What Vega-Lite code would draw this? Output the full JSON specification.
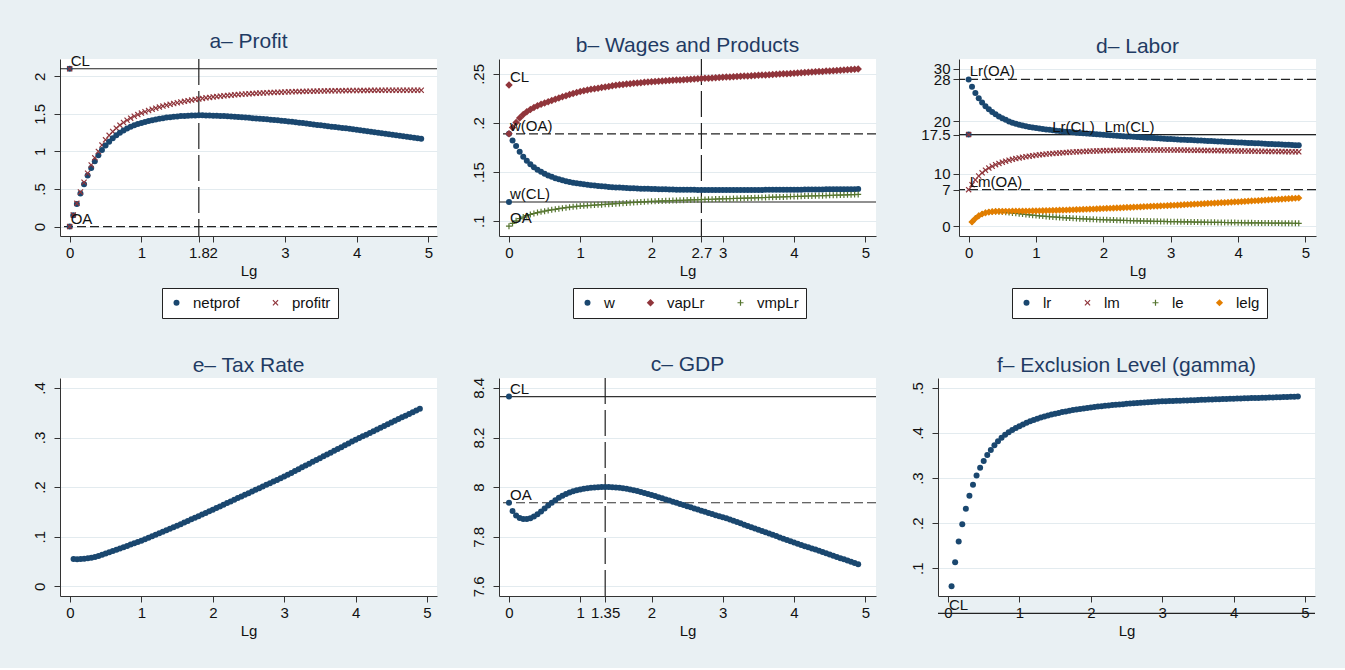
{
"$schema":"https://vega.github.io/schema/vega-lite/v6.json",
"background":"#e9f0f3",
"padding":{"left":31,"top":30,"right":31,"bottom":30},
"config":{
 "view":{"stroke":null,"fill":"#ffffff"},
 "title":{"font":"Liberation Sans","fontSize":21,"fontWeight":"normal","color":"#1f3b63","offset":2,"frame":"group","anchor":"middle"},
 "axis":{"labelFont":"Liberation Sans","labelFontSize":15,"labelColor":"#111","titleFont":"Liberation Sans","titleFontSize":15,"titleFontWeight":"normal","titleColor":"#111","domainColor":"#333","tickColor":"#333","tickSize":6,"labelOverlap":false,"labelFlush":false,"labelBound":false},
 "axisX":{"grid":false,"labelPadding":3,"titlePadding":3},
 "axisY":{"grid":true,"gridColor":"#e3ebef","labelAngle":-90,"labelPadding":7},
 "legend":{"orient":"none","direction":"horizontal","labelFont":"Liberation Sans","labelFontSize":15,"labelColor":"#111","fillColor":"#ffffff","strokeColor":"#222","padding":7,"labelOffset":9,"columnPadding":28,"symbolStrokeWidth":0,"symbolSize":36}
},
"datasets":{
"ref":[
{"panel":"a","dir":"h","v":2.1,"style":"solid"},{"panel":"a","dir":"h","v":0,"style":"dash"},{"panel":"a","dir":"v","Lg":1.8,"style":"longdash"},
{"panel":"b","dir":"h","v":0.189,"style":"dash"},{"panel":"b","dir":"h","v":0.1196,"style":"solid"},{"panel":"b","dir":"v","Lg":2.7,"style":"longdash"},
{"panel":"d","dir":"h","v":28,"style":"dash"},{"panel":"d","dir":"h","v":17.5,"style":"solid"},{"panel":"d","dir":"h","v":7,"style":"dash"},
{"panel":"c","dir":"h","v":8.365,"style":"solid"},{"panel":"c","dir":"h","v":7.937,"style":"dash"},{"panel":"c","dir":"v","Lg":1.35,"style":"longdash"},
{"panel":"f","dir":"h","v":0,"style":"solid"}
],
"lab":[
{"panel":"a","Lg":0,"v":2.1,"label":"CL"},{"panel":"a","Lg":0,"v":0,"label":"OA"},
{"panel":"b","Lg":0,"v":0.2388,"label":"CL"},{"panel":"b","Lg":0,"v":0.189,"label":"w(OA)"},{"panel":"b","Lg":0,"v":0.1196,"label":"w(CL)"},{"panel":"b","Lg":0,"v":0.095,"label":"OA"},
{"panel":"d","Lg":0,"v":28,"label":"Lr(OA)"},{"panel":"d","Lg":1.225,"v":17.5,"label":"Lr(CL)"},{"panel":"d","Lg":2.0,"v":17.5,"label":"Lm(CL)"},{"panel":"d","Lg":0,"v":7,"label":"Lm(OA)"},
{"panel":"c","Lg":0,"v":8.365,"label":"CL"},{"panel":"c","Lg":0,"v":7.937,"label":"OA"},
{"panel":"f","Lg":0,"v":0,"label":"CL"}
],
"main":[
{"Lg":0,"netprof":0,"profitr":0,"w":0.189,"vapLr":0.189,"vmpLr":0.095,"lr":28,"lm":7,"gdp":7.937},
{"Lg":0,"netprof":2.1,"profitr":2.1,"w":0.1196,"vapLr":0.2388,"lr":17.5,"lm":17.5,"gdp":8.365},
{"Lg":0.05,"netprof":0.15,"profitr":0.155,"w":0.1823,"vapLr":0.1955,"vmpLr":0.0978,"lr":26.6,"lm":7.95,"le":0.85,"lelg":0.85,"tax":0.0548,"gdp":7.904,"gamma":0.06},
{"Lg":0.1,"netprof":0.3,"profitr":0.31,"w":0.1765,"vapLr":0.2005,"vmpLr":0.1005,"lr":25.4,"lm":8.85,"le":1.5,"lelg":1.5,"tax":0.0546,"gdp":7.886,"gamma":0.1133},
{"Lg":0.15,"netprof":0.44,"profitr":0.46,"w":0.1707,"vapLr":0.2051,"vmpLr":0.1026,"lr":24.4,"lm":9.6,"le":2.0,"lelg":2.0,"tax":0.0548,"gdp":7.876,"gamma":0.1593},
{"Lg":0.2,"netprof":0.565,"profitr":0.59,"w":0.1657,"vapLr":0.2086,"vmpLr":0.1043,"lr":23.6,"lm":10.2,"le":2.35,"lelg":2.35,"tax":0.0553,"gdp":7.871,"gamma":0.1978},
{"Lg":0.25,"netprof":0.68,"profitr":0.71,"w":0.1615,"vapLr":0.2115,"vmpLr":0.1057,"lr":22.9,"lm":10.7,"le":2.58,"lelg":2.58,"tax":0.0563,"gdp":7.871,"gamma":0.2319},
{"Lg":0.3,"netprof":0.78,"profitr":0.82,"w":0.158,"vapLr":0.2139,"vmpLr":0.1069,"lr":22.3,"lm":11.1,"le":2.72,"lelg":2.72,"tax":0.0576,"gdp":7.875,"gamma":0.2607},
{"Lg":0.35,"netprof":0.87,"profitr":0.915,"w":0.155,"vapLr":0.2159,"vmpLr":0.1079,"lr":21.8,"lm":11.45,"le":2.8,"lelg":2.8,"tax":0.0592,"gdp":7.882,"gamma":0.2852},
{"Lg":0.4,"netprof":0.95,"profitr":1.0,"w":0.1525,"vapLr":0.2176,"vmpLr":0.1088,"lr":21.35,"lm":11.75,"le":2.83,"lelg":2.84,"tax":0.0611,"gdp":7.891,"gamma":0.3059},
{"Lg":0.45,"netprof":1.02,"profitr":1.085,"w":0.1503,"vapLr":0.2191,"vmpLr":0.1096,"lr":20.95,"lm":12.0,"le":2.82,"lelg":2.86,"tax":0.0634,"gdp":7.902,"gamma":0.323},
{"Lg":0.5,"netprof":1.08,"profitr":1.155,"w":0.1484,"vapLr":0.2204,"vmpLr":0.1103,"lr":20.6,"lm":12.23,"le":2.75,"lelg":2.87,"tax":0.066,"gdp":7.914,"gamma":0.3378},
{"Lg":0.55,"netprof":1.13,"profitr":1.215,"w":0.1467,"vapLr":0.2217,"vmpLr":0.111,"lr":20.3,"lm":12.43,"le":2.69,"lelg":2.88,"tax":0.0685,"gdp":7.926,"gamma":0.3511},
{"Lg":0.6,"netprof":1.175,"profitr":1.265,"w":0.1452,"vapLr":0.223,"vmpLr":0.1116,"lr":20.0,"lm":12.61,"le":2.62,"lelg":2.88,"tax":0.071,"gdp":7.937,"gamma":0.3622},
{"Lg":0.65,"netprof":1.215,"profitr":1.31,"w":0.1439,"vapLr":0.2243,"vmpLr":0.1122,"lr":19.77,"lm":12.77,"le":2.55,"lelg":2.89,"tax":0.0736,"gdp":7.947,"gamma":0.3726},
{"Lg":0.7,"netprof":1.25,"profitr":1.35,"w":0.1427,"vapLr":0.2255,"vmpLr":0.1128,"lr":19.56,"lm":12.92,"le":2.48,"lelg":2.9,"tax":0.0762,"gdp":7.957,"gamma":0.3815},
{"Lg":0.75,"netprof":1.28,"profitr":1.385,"w":0.1417,"vapLr":0.2267,"vmpLr":0.1133,"lr":19.38,"lm":13.05,"le":2.41,"lelg":2.9,"tax":0.0788,"gdp":7.965,"gamma":0.3893},
{"Lg":0.8,"netprof":1.305,"profitr":1.415,"w":0.1408,"vapLr":0.2279,"vmpLr":0.1138,"lr":19.22,"lm":13.17,"le":2.34,"lelg":2.91,"tax":0.0814,"gdp":7.972,"gamma":0.396},
{"Lg":0.85,"netprof":1.328,"profitr":1.443,"w":0.14,"vapLr":0.229,"vmpLr":0.1143,"lr":19.08,"lm":13.28,"le":2.27,"lelg":2.92,"tax":0.084,"gdp":7.978,"gamma":0.4018},
{"Lg":0.9,"netprof":1.348,"profitr":1.468,"w":0.1393,"vapLr":0.2301,"vmpLr":0.1147,"lr":18.96,"lm":13.38,"le":2.2,"lelg":2.93,"tax":0.0866,"gdp":7.983,"gamma":0.4069},
{"Lg":0.95,"netprof":1.365,"profitr":1.49,"w":0.1387,"vapLr":0.2312,"vmpLr":0.1151,"lr":18.85,"lm":13.47,"le":2.13,"lelg":2.94,"tax":0.0891,"gdp":7.987,"gamma":0.4113},
{"Lg":1.0,"netprof":1.38,"profitr":1.51,"w":0.1381,"vapLr":0.2322,"vmpLr":0.1155,"lr":18.75,"lm":13.56,"le":2.07,"lelg":2.95,"tax":0.0917,"gdp":7.99,"gamma":0.4152},
{"Lg":1.05,"netprof":1.393,"profitr":1.528,"w":0.1376,"vapLr":0.2329,"vmpLr":0.1157,"lr":18.65,"lm":13.64,"le":2.01,"lelg":2.97,"tax":0.0947,"gdp":7.993,"gamma":0.419},
{"Lg":1.1,"netprof":1.405,"profitr":1.545,"w":0.1371,"vapLr":0.2336,"vmpLr":0.116,"lr":18.56,"lm":13.71,"le":1.95,"lelg":2.98,"tax":0.0977,"gdp":7.995,"gamma":0.4225},
{"Lg":1.15,"netprof":1.416,"profitr":1.561,"w":0.1367,"vapLr":0.2343,"vmpLr":0.1162,"lr":18.47,"lm":13.78,"le":1.9,"lelg":3.0,"tax":0.1008,"gdp":7.997,"gamma":0.4258},
{"Lg":1.2,"netprof":1.426,"profitr":1.576,"w":0.1363,"vapLr":0.2349,"vmpLr":0.1165,"lr":18.39,"lm":13.84,"le":1.84,"lelg":3.02,"tax":0.1038,"gdp":7.998,"gamma":0.4288},
{"Lg":1.25,"netprof":1.435,"profitr":1.59,"w":0.1359,"vapLr":0.2355,"vmpLr":0.1167,"lr":18.31,"lm":13.9,"le":1.79,"lelg":3.04,"tax":0.1068,"gdp":7.999,"gamma":0.4316},
{"Lg":1.3,"netprof":1.443,"profitr":1.603,"w":0.1356,"vapLr":0.2361,"vmpLr":0.1169,"lr":18.24,"lm":13.95,"le":1.74,"lelg":3.06,"tax":0.1099,"gdp":8.0,"gamma":0.4342},
{"Lg":1.35,"netprof":1.45,"profitr":1.615,"w":0.1353,"vapLr":0.2367,"vmpLr":0.1172,"lr":18.17,"lm":14.0,"le":1.7,"lelg":3.08,"tax":0.1129,"gdp":8.0,"gamma":0.4366},
{"Lg":1.4,"netprof":1.456,"profitr":1.627,"w":0.135,"vapLr":0.2373,"vmpLr":0.1174,"lr":18.1,"lm":14.05,"le":1.65,"lelg":3.1,"tax":0.1159,"gdp":8.0,"gamma":0.4388},
{"Lg":1.45,"netprof":1.461,"profitr":1.638,"w":0.1347,"vapLr":0.2379,"vmpLr":0.1177,"lr":18.04,"lm":14.09,"le":1.61,"lelg":3.12,"tax":0.119,"gdp":7.999,"gamma":0.4409},
{"Lg":1.5,"netprof":1.466,"profitr":1.648,"w":0.1345,"vapLr":0.2385,"vmpLr":0.1179,"lr":17.98,"lm":14.13,"le":1.57,"lelg":3.14,"tax":0.122,"gdp":7.998,"gamma":0.4428},
{"Lg":1.55,"netprof":1.47,"profitr":1.658,"w":0.1343,"vapLr":0.2389,"vmpLr":0.1181,"lr":17.92,"lm":14.17,"le":1.53,"lelg":3.16,"tax":0.1252,"gdp":7.997,"gamma":0.4446},
{"Lg":1.6,"netprof":1.473,"profitr":1.667,"w":0.1341,"vapLr":0.2393,"vmpLr":0.1184,"lr":17.86,"lm":14.21,"le":1.5,"lelg":3.19,"tax":0.1285,"gdp":7.995,"gamma":0.4463},
{"Lg":1.65,"netprof":1.476,"profitr":1.676,"w":0.1339,"vapLr":0.2397,"vmpLr":0.1186,"lr":17.81,"lm":14.24,"le":1.46,"lelg":3.21,"tax":0.1317,"gdp":7.993,"gamma":0.4479},
{"Lg":1.7,"netprof":1.478,"profitr":1.684,"w":0.1337,"vapLr":0.2401,"vmpLr":0.1189,"lr":17.76,"lm":14.27,"le":1.43,"lelg":3.24,"tax":0.135,"gdp":7.99,"gamma":0.4494},
{"Lg":1.75,"netprof":1.479,"profitr":1.692,"w":0.1335,"vapLr":0.2405,"vmpLr":0.1191,"lr":17.7,"lm":14.3,"le":1.4,"lelg":3.26,"tax":0.1382,"gdp":7.987,"gamma":0.4508},
{"Lg":1.8,"netprof":1.48,"profitr":1.699,"w":0.1334,"vapLr":0.2408,"vmpLr":0.1193,"lr":17.65,"lm":14.33,"le":1.37,"lelg":3.29,"tax":0.1414,"gdp":7.984,"gamma":0.4521},
{"Lg":1.85,"netprof":1.48,"profitr":1.706,"w":0.1332,"vapLr":0.2411,"vmpLr":0.1196,"lr":17.6,"lm":14.36,"le":1.34,"lelg":3.31,"tax":0.1447,"gdp":7.98,"gamma":0.4533},
{"Lg":1.9,"netprof":1.479,"profitr":1.713,"w":0.1331,"vapLr":0.2415,"vmpLr":0.1198,"lr":17.55,"lm":14.38,"le":1.31,"lelg":3.34,"tax":0.1479,"gdp":7.976,"gamma":0.4545},
{"Lg":1.95,"netprof":1.478,"profitr":1.719,"w":0.133,"vapLr":0.2418,"vmpLr":0.1201,"lr":17.5,"lm":14.4,"le":1.28,"lelg":3.37,"tax":0.1512,"gdp":7.972,"gamma":0.4556},
{"Lg":2.0,"netprof":1.476,"profitr":1.725,"w":0.1329,"vapLr":0.2421,"vmpLr":0.1203,"lr":17.45,"lm":14.42,"le":1.26,"lelg":3.4,"tax":0.1544,"gdp":7.968,"gamma":0.4566},
{"Lg":2.05,"netprof":1.474,"profitr":1.73,"w":0.1328,"vapLr":0.2423,"vmpLr":0.1204,"lr":17.41,"lm":14.44,"le":1.24,"lelg":3.43,"tax":0.1577,"gdp":7.964,"gamma":0.4576},
{"Lg":2.1,"netprof":1.472,"profitr":1.735,"w":0.1327,"vapLr":0.2426,"vmpLr":0.1206,"lr":17.36,"lm":14.46,"le":1.21,"lelg":3.45,"tax":0.1611,"gdp":7.959,"gamma":0.4585},
{"Lg":2.15,"netprof":1.47,"profitr":1.74,"w":0.1326,"vapLr":0.2428,"vmpLr":0.1207,"lr":17.32,"lm":14.47,"le":1.19,"lelg":3.48,"tax":0.1644,"gdp":7.955,"gamma":0.4594},
{"Lg":2.2,"netprof":1.467,"profitr":1.745,"w":0.1325,"vapLr":0.243,"vmpLr":0.1208,"lr":17.27,"lm":14.49,"le":1.17,"lelg":3.51,"tax":0.1678,"gdp":7.95,"gamma":0.4603},
{"Lg":2.25,"netprof":1.464,"profitr":1.749,"w":0.1324,"vapLr":0.2432,"vmpLr":0.1209,"lr":17.23,"lm":14.5,"le":1.15,"lelg":3.54,"tax":0.1711,"gdp":7.946,"gamma":0.4611},
{"Lg":2.3,"netprof":1.461,"profitr":1.753,"w":0.1323,"vapLr":0.2435,"vmpLr":0.1211,"lr":17.19,"lm":14.51,"le":1.13,"lelg":3.57,"tax":0.1745,"gdp":7.941,"gamma":0.4619},
{"Lg":2.35,"netprof":1.458,"profitr":1.757,"w":0.1322,"vapLr":0.2437,"vmpLr":0.1212,"lr":17.15,"lm":14.52,"le":1.11,"lelg":3.6,"tax":0.1778,"gdp":7.937,"gamma":0.4626},
{"Lg":2.4,"netprof":1.455,"profitr":1.761,"w":0.1322,"vapLr":0.2439,"vmpLr":0.1213,"lr":17.11,"lm":14.53,"le":1.09,"lelg":3.63,"tax":0.1811,"gdp":7.932,"gamma":0.4633},
{"Lg":2.45,"netprof":1.451,"profitr":1.764,"w":0.1321,"vapLr":0.2441,"vmpLr":0.1214,"lr":17.07,"lm":14.54,"le":1.07,"lelg":3.66,"tax":0.1845,"gdp":7.928,"gamma":0.464},
{"Lg":2.5,"netprof":1.447,"profitr":1.767,"w":0.1321,"vapLr":0.2444,"vmpLr":0.1216,"lr":17.03,"lm":14.54,"le":1.05,"lelg":3.69,"tax":0.1878,"gdp":7.923,"gamma":0.4647},
{"Lg":2.55,"netprof":1.443,"profitr":1.77,"w":0.132,"vapLr":0.2446,"vmpLr":0.1217,"lr":16.99,"lm":14.55,"le":1.03,"lelg":3.72,"tax":0.1911,"gdp":7.919,"gamma":0.4653},
{"Lg":2.6,"netprof":1.439,"profitr":1.773,"w":0.132,"vapLr":0.2448,"vmpLr":0.1218,"lr":16.95,"lm":14.55,"le":1.02,"lelg":3.75,"tax":0.1945,"gdp":7.914,"gamma":0.4659},
{"Lg":2.65,"netprof":1.435,"profitr":1.776,"w":0.1319,"vapLr":0.245,"vmpLr":0.1219,"lr":16.91,"lm":14.55,"le":1.0,"lelg":3.78,"tax":0.1978,"gdp":7.91,"gamma":0.4665},
{"Lg":2.7,"netprof":1.431,"profitr":1.778,"w":0.1319,"vapLr":0.2453,"vmpLr":0.1221,"lr":16.87,"lm":14.56,"le":0.99,"lelg":3.81,"tax":0.2012,"gdp":7.905,"gamma":0.4671},
{"Lg":2.75,"netprof":1.427,"profitr":1.781,"w":0.1319,"vapLr":0.2455,"vmpLr":0.1222,"lr":16.83,"lm":14.56,"le":0.97,"lelg":3.84,"tax":0.2045,"gdp":7.901,"gamma":0.4677},
{"Lg":2.8,"netprof":1.422,"profitr":1.783,"w":0.1318,"vapLr":0.2457,"vmpLr":0.1223,"lr":16.79,"lm":14.56,"le":0.96,"lelg":3.87,"tax":0.2078,"gdp":7.896,"gamma":0.4682},
{"Lg":2.85,"netprof":1.418,"profitr":1.785,"w":0.1318,"vapLr":0.2459,"vmpLr":0.1224,"lr":16.75,"lm":14.56,"le":0.94,"lelg":3.9,"tax":0.2112,"gdp":7.892,"gamma":0.4687},
{"Lg":2.9,"netprof":1.414,"profitr":1.787,"w":0.1318,"vapLr":0.2462,"vmpLr":0.1226,"lr":16.71,"lm":14.55,"le":0.93,"lelg":3.93,"tax":0.2145,"gdp":7.887,"gamma":0.4692},
{"Lg":2.95,"netprof":1.41,"profitr":1.789,"w":0.1318,"vapLr":0.2464,"vmpLr":0.1227,"lr":16.67,"lm":14.55,"le":0.91,"lelg":3.96,"tax":0.2179,"gdp":7.883,"gamma":0.4697},
{"Lg":3.0,"netprof":1.405,"profitr":1.791,"w":0.1318,"vapLr":0.2466,"vmpLr":0.1228,"lr":16.63,"lm":14.55,"le":0.9,"lelg":3.99,"tax":0.2212,"gdp":7.879,"gamma":0.4702},
{"Lg":3.05,"netprof":1.4,"profitr":1.793,"w":0.1318,"vapLr":0.2468,"vmpLr":0.1229,"lr":16.6,"lm":14.54,"le":0.89,"lelg":4.02,"tax":0.2249,"gdp":7.874,"gamma":0.4705},
{"Lg":3.1,"netprof":1.394,"profitr":1.794,"w":0.1318,"vapLr":0.247,"vmpLr":0.123,"lr":16.57,"lm":14.54,"le":0.88,"lelg":4.06,"tax":0.2286,"gdp":7.869,"gamma":0.4708},
{"Lg":3.15,"netprof":1.388,"profitr":1.796,"w":0.1318,"vapLr":0.2472,"vmpLr":0.1232,"lr":16.53,"lm":14.53,"le":0.87,"lelg":4.09,"tax":0.2323,"gdp":7.864,"gamma":0.4711},
{"Lg":3.2,"netprof":1.382,"profitr":1.797,"w":0.1318,"vapLr":0.2474,"vmpLr":0.1233,"lr":16.5,"lm":14.53,"le":0.86,"lelg":4.13,"tax":0.236,"gdp":7.859,"gamma":0.4714},
{"Lg":3.25,"netprof":1.377,"profitr":1.799,"w":0.1318,"vapLr":0.2476,"vmpLr":0.1234,"lr":16.47,"lm":14.52,"le":0.85,"lelg":4.16,"tax":0.2398,"gdp":7.854,"gamma":0.4717},
{"Lg":3.3,"netprof":1.371,"profitr":1.8,"w":0.1318,"vapLr":0.2478,"vmpLr":0.1235,"lr":16.44,"lm":14.51,"le":0.84,"lelg":4.19,"tax":0.2435,"gdp":7.848,"gamma":0.472},
{"Lg":3.35,"netprof":1.365,"profitr":1.801,"w":0.1319,"vapLr":0.248,"vmpLr":0.1236,"lr":16.41,"lm":14.5,"le":0.82,"lelg":4.23,"tax":0.2472,"gdp":7.843,"gamma":0.4723},
{"Lg":3.4,"netprof":1.359,"profitr":1.802,"w":0.1319,"vapLr":0.2482,"vmpLr":0.1238,"lr":16.38,"lm":14.5,"le":0.81,"lelg":4.26,"tax":0.2509,"gdp":7.838,"gamma":0.4726},
{"Lg":3.45,"netprof":1.353,"profitr":1.803,"w":0.1319,"vapLr":0.2484,"vmpLr":0.1239,"lr":16.35,"lm":14.49,"le":0.8,"lelg":4.3,"tax":0.2546,"gdp":7.833,"gamma":0.4729},
{"Lg":3.5,"netprof":1.348,"profitr":1.804,"w":0.1319,"vapLr":0.2486,"vmpLr":0.124,"lr":16.32,"lm":14.48,"le":0.79,"lelg":4.33,"tax":0.2583,"gdp":7.828,"gamma":0.4732},
{"Lg":3.55,"netprof":1.342,"profitr":1.805,"w":0.1319,"vapLr":0.2488,"vmpLr":0.1241,"lr":16.28,"lm":14.47,"le":0.78,"lelg":4.37,"tax":0.262,"gdp":7.823,"gamma":0.4735},
{"Lg":3.6,"netprof":1.336,"profitr":1.806,"w":0.132,"vapLr":0.249,"vmpLr":0.1242,"lr":16.25,"lm":14.46,"le":0.77,"lelg":4.4,"tax":0.2657,"gdp":7.818,"gamma":0.4738},
{"Lg":3.65,"netprof":1.33,"profitr":1.807,"w":0.132,"vapLr":0.2492,"vmpLr":0.1244,"lr":16.22,"lm":14.45,"le":0.76,"lelg":4.44,"tax":0.2694,"gdp":7.813,"gamma":0.4741},
{"Lg":3.7,"netprof":1.325,"profitr":1.808,"w":0.132,"vapLr":0.2494,"vmpLr":0.1245,"lr":16.19,"lm":14.44,"le":0.75,"lelg":4.47,"tax":0.2731,"gdp":7.808,"gamma":0.4744},
{"Lg":3.75,"netprof":1.319,"profitr":1.808,"w":0.132,"vapLr":0.2497,"vmpLr":0.1246,"lr":16.16,"lm":14.43,"le":0.74,"lelg":4.51,"tax":0.2769,"gdp":7.803,"gamma":0.4747},
{"Lg":3.8,"netprof":1.313,"profitr":1.809,"w":0.1321,"vapLr":0.2499,"vmpLr":0.1247,"lr":16.13,"lm":14.42,"le":0.73,"lelg":4.54,"tax":0.2806,"gdp":7.797,"gamma":0.475},
{"Lg":3.85,"netprof":1.307,"profitr":1.81,"w":0.1321,"vapLr":0.2501,"vmpLr":0.1248,"lr":16.09,"lm":14.41,"le":0.72,"lelg":4.58,"tax":0.2843,"gdp":7.792,"gamma":0.4753},
{"Lg":3.9,"netprof":1.302,"profitr":1.81,"w":0.1321,"vapLr":0.2503,"vmpLr":0.125,"lr":16.06,"lm":14.4,"le":0.72,"lelg":4.61,"tax":0.288,"gdp":7.787,"gamma":0.4756},
{"Lg":3.95,"netprof":1.296,"profitr":1.811,"w":0.1321,"vapLr":0.2505,"vmpLr":0.1251,"lr":16.03,"lm":14.39,"le":0.71,"lelg":4.65,"tax":0.2917,"gdp":7.782,"gamma":0.4759},
{"Lg":4.0,"netprof":1.29,"profitr":1.811,"w":0.1322,"vapLr":0.2507,"vmpLr":0.1252,"lr":16.0,"lm":14.38,"le":0.7,"lelg":4.68,"tax":0.2954,"gdp":7.777,"gamma":0.4762},
{"Lg":4.05,"netprof":1.283,"profitr":1.812,"w":0.1322,"vapLr":0.2509,"vmpLr":0.1253,"lr":15.97,"lm":14.37,"le":0.69,"lelg":4.72,"tax":0.2989,"gdp":7.772,"gamma":0.4765},
{"Lg":4.1,"netprof":1.276,"profitr":1.812,"w":0.1322,"vapLr":0.2512,"vmpLr":0.1254,"lr":15.94,"lm":14.36,"le":0.68,"lelg":4.76,"tax":0.3024,"gdp":7.767,"gamma":0.4767},
{"Lg":4.15,"netprof":1.27,"profitr":1.812,"w":0.1323,"vapLr":0.2514,"vmpLr":0.1256,"lr":15.91,"lm":14.35,"le":0.68,"lelg":4.8,"tax":0.3058,"gdp":7.762,"gamma":0.477},
{"Lg":4.2,"netprof":1.263,"profitr":1.813,"w":0.1323,"vapLr":0.2517,"vmpLr":0.1257,"lr":15.88,"lm":14.34,"le":0.67,"lelg":4.84,"tax":0.3093,"gdp":7.758,"gamma":0.4772},
{"Lg":4.25,"netprof":1.256,"profitr":1.813,"w":0.1323,"vapLr":0.2519,"vmpLr":0.1258,"lr":15.85,"lm":14.33,"le":0.66,"lelg":4.88,"tax":0.3128,"gdp":7.753,"gamma":0.4775},
{"Lg":4.3,"netprof":1.249,"profitr":1.813,"w":0.1324,"vapLr":0.2521,"vmpLr":0.1259,"lr":15.82,"lm":14.32,"le":0.66,"lelg":4.92,"tax":0.3163,"gdp":7.748,"gamma":0.4777},
{"Lg":4.35,"netprof":1.242,"profitr":1.813,"w":0.1324,"vapLr":0.2524,"vmpLr":0.126,"lr":15.79,"lm":14.31,"le":0.65,"lelg":4.96,"tax":0.3198,"gdp":7.743,"gamma":0.4779},
{"Lg":4.4,"netprof":1.236,"profitr":1.814,"w":0.1324,"vapLr":0.2526,"vmpLr":0.1261,"lr":15.75,"lm":14.3,"le":0.64,"lelg":5.0,"tax":0.3232,"gdp":7.738,"gamma":0.4782},
{"Lg":4.45,"netprof":1.229,"profitr":1.814,"w":0.1325,"vapLr":0.2529,"vmpLr":0.1262,"lr":15.72,"lm":14.29,"le":0.64,"lelg":5.04,"tax":0.3267,"gdp":7.733,"gamma":0.4784},
{"Lg":4.5,"netprof":1.222,"profitr":1.814,"w":0.1325,"vapLr":0.2531,"vmpLr":0.1264,"lr":15.69,"lm":14.28,"le":0.63,"lelg":5.08,"tax":0.3302,"gdp":7.728,"gamma":0.4787},
{"Lg":4.55,"netprof":1.215,"profitr":1.814,"w":0.1325,"vapLr":0.2533,"vmpLr":0.1265,"lr":15.66,"lm":14.27,"le":0.62,"lelg":5.12,"tax":0.3337,"gdp":7.723,"gamma":0.4789},
{"Lg":4.6,"netprof":1.208,"profitr":1.814,"w":0.1326,"vapLr":0.2536,"vmpLr":0.1266,"lr":15.63,"lm":14.26,"le":0.62,"lelg":5.16,"tax":0.3372,"gdp":7.718,"gamma":0.4792},
{"Lg":4.65,"netprof":1.202,"profitr":1.814,"w":0.1326,"vapLr":0.2538,"vmpLr":0.1267,"lr":15.6,"lm":14.25,"le":0.61,"lelg":5.2,"tax":0.3406,"gdp":7.713,"gamma":0.4794},
{"Lg":4.7,"netprof":1.195,"profitr":1.814,"w":0.1326,"vapLr":0.2541,"vmpLr":0.1268,"lr":15.57,"lm":14.24,"le":0.6,"lelg":5.24,"tax":0.3441,"gdp":7.709,"gamma":0.4797},
{"Lg":4.75,"netprof":1.188,"profitr":1.814,"w":0.1327,"vapLr":0.2543,"vmpLr":0.1269,"lr":15.54,"lm":14.23,"le":0.6,"lelg":5.28,"tax":0.3476,"gdp":7.704,"gamma":0.4799},
{"Lg":4.8,"netprof":1.181,"profitr":1.814,"w":0.1327,"vapLr":0.2545,"vmpLr":0.1271,"lr":15.51,"lm":14.22,"le":0.59,"lelg":5.32,"tax":0.3511,"gdp":7.699,"gamma":0.4802},
{"Lg":4.85,"netprof":1.175,"profitr":1.814,"w":0.1327,"vapLr":0.2548,"vmpLr":0.1272,"lr":15.48,"lm":14.21,"le":0.59,"lelg":5.36,"tax":0.3545,"gdp":7.694,"gamma":0.4804},
{"Lg":4.9,"netprof":1.168,"profitr":1.814,"w":0.1328,"vapLr":0.255,"vmpLr":0.1273,"lr":15.45,"lm":14.2,"le":0.58,"lelg":5.4,"tax":0.358,"gdp":7.689,"gamma":0.4807}
]
},
"spacing":35,
"resolve":{"scale":{"color":"independent","shape":"independent"},"legend":{"color":"independent","shape":"independent"}},
"vconcat":[
{"spacing":33,"resolve":{"scale":{"color":"independent","shape":"independent"},"legend":{"color":"independent","shape":"independent"}},"hconcat":[
 {"title":"a– Profit","width":377,"height":177,"layer":[
  {"data":{"name":"ref"},"transform":[{"filter":"datum.panel=='a' && datum.dir=='h'"}],"mark":{"type":"rule","color":"#222","strokeWidth":1.2},
   "encoding":{"y":{"field":"v","type":"quantitative","scale":{"domain":[-0.125,2.23],"nice":false,"zero":false},"title":null,"axis":{"values":[0,0.5,1,1.5,2],"labelOverlap":false,"labelExpr":"replace(toString(datum.value),'0.','.')"}},
    "strokeDash":{"field":"style","type":"nominal","scale":{"domain":["solid","dash","longdash"],"range":[[1,0],[9,4],[26,6]]},"legend":null}}},
  {"data":{"name":"ref"},"transform":[{"filter":"datum.panel=='a' && datum.dir=='v'"}],"mark":{"type":"rule","color":"#222","strokeWidth":1.2},
   "encoding":{"x":{"field":"Lg","type":"quantitative","scale":{"domain":[-0.135,5.12],"nice":false,"zero":false},"title":"Lg","axis":{"values":[0,1,1.8,2,3,4,5],"labelOverlap":false,"labelExpr":"toString(datum.value)"}},
    "strokeDash":{"field":"style","type":"nominal","scale":{"domain":["solid","dash","longdash"],"range":[[1,0],[9,4],[26,6]]},"legend":null}}},
  {"data":{"name":"main"},"transform":[{"fold":["netprof","profitr"],"as":["series","v"]},{"filter":"isValid(datum.v)"}],
   "mark":{"type":"point","filled":true,"opacity":1,"size":36},
   "encoding":{
    "x":{"field":"Lg","type":"quantitative","scale":{"domain":[-0.135,5.12],"nice":false,"zero":false},"title":"Lg","axis":{"values":[0,1,1.8,2,3,4,5],"labelOverlap":false,"labelExpr":"toString(datum.value)"}},
    "y":{"field":"v","type":"quantitative","scale":{"domain":[-0.125,2.23],"nice":false,"zero":false},"title":null,"axis":{"values":[0,0.5,1,1.5,2],"labelOverlap":false,"labelExpr":"replace(toString(datum.value),'0.','.')"}},
    "color":{"field":"series","type":"nominal","scale":{"domain":["netprof","profitr"],"range":["#1a476f","#90353b"]},"legend":{"title":null,"legendX":102,"legendY":229}},
    "shape":{"field":"series","type":"nominal","scale":{"domain":["netprof","profitr"],"range":["circle","M0,-0.283L0.72,-1L1,-0.72L0.283,0L1,0.72L0.72,1L0,0.283L-0.72,1L-1,0.72L-0.283,0L-1,-0.72L-0.72,-1Z"]},"legend":{"title":null}}}},
  {"data":{"name":"lab"},"transform":[{"filter":"datum.panel=='a'"}],"mark":{"type":"text","align":"left","baseline":"alphabetic","dx":1,"dy":-3,"fontSize":15,"font":"Liberation Sans","color":"#111"},
   "encoding":{"x":{"field":"Lg","type":"quantitative","scale":{"domain":[-0.135,5.12],"nice":false,"zero":false},"title":"Lg"},"y":{"field":"v","type":"quantitative","scale":{"domain":[-0.125,2.23],"nice":false,"zero":false},"title":null},"text":{"field":"label"}}}
 ]},
 {"spacing":43,"resolve":{"scale":{"color":"independent","shape":"independent"},"legend":{"color":"independent","shape":"independent"}},"hconcat":[
 {"title":"b– Wages and Products","width":377,"height":177,"layer":[
  {"data":{"name":"ref"},"transform":[{"filter":"datum.panel=='b' && datum.dir=='h'"}],"mark":{"type":"rule","color":"#222","strokeWidth":1.2},
   "encoding":{"y":{"field":"v","type":"quantitative","scale":{"domain":[0.085,0.2652],"nice":false,"zero":false},"title":null,"axis":{"values":[0.1,0.15,0.2,0.25],"labelOverlap":false,"labelExpr":"replace(toString(datum.value),'0.','.')"}},
    "strokeDash":{"field":"style","type":"nominal","scale":{"domain":["solid","dash","longdash"],"range":[[1,0],[9,4],[26,6]]},"legend":null}}},
  {"data":{"name":"ref"},"transform":[{"filter":"datum.panel=='b' && datum.dir=='v'"}],"mark":{"type":"rule","color":"#222","strokeWidth":1.2},
   "encoding":{"x":{"field":"Lg","type":"quantitative","scale":{"domain":[-0.14,5.15],"nice":false,"zero":false},"title":"Lg","axis":{"values":[0,1,2,2.7,3,4,5],"labelOverlap":false,"labelExpr":"toString(datum.value)"}},
    "strokeDash":{"field":"style","type":"nominal","scale":{"domain":["solid","dash","longdash"],"range":[[1,0],[9,4],[26,6]]},"legend":null}}},
  {"data":{"name":"main"},"transform":[{"fold":["w","vapLr","vmpLr"],"as":["series","v"]},{"filter":"isValid(datum.v)"}],
   "mark":{"type":"point","filled":true,"opacity":1,"size":36},
   "encoding":{
    "x":{"field":"Lg","type":"quantitative","scale":{"domain":[-0.14,5.15],"nice":false,"zero":false},"title":"Lg","axis":{"values":[0,1,2,2.7,3,4,5],"labelOverlap":false,"labelExpr":"toString(datum.value)"}},
    "y":{"field":"v","type":"quantitative","scale":{"domain":[0.085,0.2652],"nice":false,"zero":false},"title":null,"axis":{"values":[0.1,0.15,0.2,0.25],"labelOverlap":false,"labelExpr":"replace(toString(datum.value),'0.','.')"}},
    "color":{"field":"series","type":"nominal","scale":{"domain":["w","vapLr","vmpLr"],"range":["#1a476f","#90353b","#55752f"]},"legend":{"title":null,"legendX":74,"legendY":229}},
    "shape":{"field":"series","type":"nominal","scale":{"domain":["w","vapLr","vmpLr"],"range":["circle","M-1.25,0L0,-1.25L1.25,0L0,1.25Z","M-1,-0.2L-0.2,-0.2L-0.2,-1L0.2,-1L0.2,-0.2L1,-0.2L1,0.2L0.2,0.2L0.2,1L-0.2,1L-0.2,0.2L-1,0.2Z"]},"legend":{"title":null}}}},
  {"data":{"name":"lab"},"transform":[{"filter":"datum.panel=='b'"}],"mark":{"type":"text","align":"left","baseline":"alphabetic","dx":1,"dy":-3,"fontSize":15,"font":"Liberation Sans","color":"#111"},
   "encoding":{"x":{"field":"Lg","type":"quantitative","scale":{"domain":[-0.14,5.15],"nice":false,"zero":false},"title":"Lg"},"y":{"field":"v","type":"quantitative","scale":{"domain":[0.085,0.2652],"nice":false,"zero":false},"title":null},"text":{"field":"label"}}}
 ]},
 {"title":"d– Labor","width":357,"height":177,"layer":[
  {"data":{"name":"ref"},"transform":[{"filter":"datum.panel=='d' && datum.dir=='h'"}],"mark":{"type":"rule","color":"#222","strokeWidth":1.2},
   "encoding":{"y":{"field":"v","type":"quantitative","scale":{"domain":[-1.84,31.9],"nice":false,"zero":false},"title":null,"axis":{"values":[0,7,10,17.5,20,28,30],"labelOverlap":false,"labelSeparation":-40,"labelExpr":"toString(datum.value)","labelAngle":0,"labelPadding":3}},
    "strokeDash":{"field":"style","type":"nominal","scale":{"domain":["solid","dash","longdash"],"range":[[1,0],[9,4],[26,6]]},"legend":null}}},
  {"data":{"name":"main"},"transform":[{"fold":["lr","lm","le","lelg"],"as":["series","v"]},{"filter":"isValid(datum.v)"}],
   "mark":{"type":"point","filled":true,"opacity":1,"size":36},
   "encoding":{
    "x":{"field":"Lg","type":"quantitative","scale":{"domain":[-0.143,5.156],"nice":false,"zero":false},"title":"Lg","axis":{"values":[0,1,2,3,4,5],"labelOverlap":false,"labelExpr":"toString(datum.value)"}},
    "y":{"field":"v","type":"quantitative","scale":{"domain":[-1.84,31.9],"nice":false,"zero":false},"title":null,"axis":{"values":[0,7,10,17.5,20,28,30],"labelOverlap":false,"labelSeparation":-40,"labelExpr":"toString(datum.value)","labelAngle":0,"labelPadding":3}},
    "color":{"field":"series","type":"nominal","scale":{"domain":["lr","lm","le","lelg"],"range":["#1a476f","#90353b","#55752f","#e37e00"]},"legend":{"title":null,"legendX":53,"legendY":229}},
    "shape":{"field":"series","type":"nominal","scale":{"domain":["lr","lm","le","lelg"],"range":["circle","M0,-0.283L0.72,-1L1,-0.72L0.283,0L1,0.72L0.72,1L0,0.283L-0.72,1L-1,0.72L-0.283,0L-1,-0.72L-0.72,-1Z","M-1,-0.2L-0.2,-0.2L-0.2,-1L0.2,-1L0.2,-0.2L1,-0.2L1,0.2L0.2,0.2L0.2,1L-0.2,1L-0.2,0.2L-1,0.2Z","M-1.2,0L0,-1.2L1.2,0L0,1.2Z"]},"legend":{"title":null}}}},
  {"data":{"name":"lab"},"transform":[{"filter":"datum.panel=='d'"}],"mark":{"type":"text","align":"left","baseline":"alphabetic","dx":1,"dy":-3,"fontSize":15,"font":"Liberation Sans","color":"#111"},
   "encoding":{"x":{"field":"Lg","type":"quantitative","scale":{"domain":[-0.143,5.156],"nice":false,"zero":false},"title":"Lg"},"y":{"field":"v","type":"quantitative","scale":{"domain":[-1.84,31.9],"nice":false,"zero":false},"title":null,"axis":{"values":[0,7,10,17.5,20,28,30],"labelOverlap":false,"labelSeparation":-40,"labelExpr":"toString(datum.value)","labelAngle":0,"labelPadding":3}},"text":{"field":"label"}}}
 ]}
 ]}
]},
{"spacing":33,"hconcat":[
 {"title":"e– Tax Rate","width":377,"height":218,"layer":[
  {"data":{"name":"main"},"transform":[{"filter":"isValid(datum.tax)"}],"mark":{"type":"point","filled":true,"opacity":1,"size":36,"color":"#1a476f"},
   "encoding":{
    "x":{"field":"Lg","type":"quantitative","scale":{"domain":[-0.14,5.14],"nice":false,"zero":false},"title":"Lg","axis":{"values":[0,1,2,3,4,5],"labelOverlap":false,"labelExpr":"toString(datum.value)"}},
    "y":{"field":"tax","type":"quantitative","scale":{"domain":[-0.0196,0.42],"nice":false,"zero":false},"title":null,"axis":{"values":[0,0.1,0.2,0.3,0.4],"labelOverlap":false,"labelExpr":"replace(toString(datum.value),'0.','.')"}}}}
 ]},
 {"title":"c– GDP","width":377,"height":218,"layer":[
  {"data":{"name":"ref"},"transform":[{"filter":"datum.panel=='c' && datum.dir=='h'"}],"mark":{"type":"rule","color":"#333","strokeWidth":1.2},
   "encoding":{"y":{"field":"v","type":"quantitative","scale":{"domain":[7.561,8.44],"nice":false,"zero":false},"title":null,"axis":{"values":[7.6,7.8,8,8.2,8.4],"labelOverlap":false,"labelExpr":"toString(datum.value)"}},
    "strokeDash":{"field":"style","type":"nominal","scale":{"domain":["solid","dash","longdash"],"range":[[1,0],[9,4],[26,6]]},"legend":null}}},
  {"data":{"name":"ref"},"transform":[{"filter":"datum.panel=='c' && datum.dir=='v'"}],"mark":{"type":"rule","color":"#222","strokeWidth":1.2},
   "encoding":{"x":{"field":"Lg","type":"quantitative","scale":{"domain":[-0.14,5.15],"nice":false,"zero":false},"title":"Lg","axis":{"values":[0,1,1.35,2,3,4,5],"labelOverlap":false,"labelExpr":"toString(datum.value)"}},
    "strokeDash":{"field":"style","type":"nominal","scale":{"domain":["solid","dash","longdash"],"range":[[1,0],[9,4],[26,6]]},"legend":null}}},
  {"data":{"name":"main"},"transform":[{"filter":"isValid(datum.gdp)"}],"mark":{"type":"point","filled":true,"opacity":1,"size":36,"color":"#1a476f"},
   "encoding":{
    "x":{"field":"Lg","type":"quantitative","scale":{"domain":[-0.14,5.15],"nice":false,"zero":false},"title":"Lg","axis":{"values":[0,1,1.35,2,3,4,5],"labelOverlap":false,"labelExpr":"toString(datum.value)"}},
    "y":{"field":"gdp","type":"quantitative","scale":{"domain":[7.561,8.44],"nice":false,"zero":false},"title":null,"axis":{"values":[7.6,7.8,8,8.2,8.4],"labelOverlap":false,"labelExpr":"toString(datum.value)"}}}},
  {"data":{"name":"lab"},"transform":[{"filter":"datum.panel=='c'"}],"mark":{"type":"text","align":"left","baseline":"alphabetic","dx":1,"dy":-3,"fontSize":15,"font":"Liberation Sans","color":"#111"},
   "encoding":{"x":{"field":"Lg","type":"quantitative","scale":{"domain":[-0.14,5.15],"nice":false,"zero":false},"title":"Lg"},"y":{"field":"v","type":"quantitative","scale":{"domain":[7.561,8.44],"nice":false,"zero":false},"title":null},"text":{"field":"label"}}}
 ]},
 {"title":"f– Exclusion Level (gamma)","width":377,"height":218,"layer":[
  {"data":{"name":"ref"},"transform":[{"filter":"datum.panel=='f' && datum.dir=='h'"}],"mark":{"type":"rule","color":"#222","strokeWidth":1.2},
   "encoding":{"y":{"field":"v","type":"quantitative","scale":{"domain":[0.0384,0.522],"nice":false,"zero":false},"title":null,"axis":{"values":[0.1,0.2,0.3,0.4,0.5],"labelOverlap":false,"labelExpr":"replace(toString(datum.value),'0.','.')"}}}},
  {"data":{"name":"main"},"transform":[{"filter":"isValid(datum.gamma)"}],"mark":{"type":"point","filled":true,"opacity":1,"size":36,"color":"#1a476f"},
   "encoding":{
    "x":{"field":"Lg","type":"quantitative","scale":{"domain":[-0.14,5.14],"nice":false,"zero":false},"title":"Lg","axis":{"values":[0,1,2,3,4,5],"labelOverlap":false,"labelExpr":"toString(datum.value)"}},
    "y":{"field":"gamma","type":"quantitative","scale":{"domain":[0.0384,0.522],"nice":false,"zero":false},"title":null,"axis":{"values":[0.1,0.2,0.3,0.4,0.5],"labelOverlap":false,"labelExpr":"replace(toString(datum.value),'0.','.')"}}}},
  {"data":{"name":"lab"},"transform":[{"filter":"datum.panel=='f'"}],"mark":{"type":"text","align":"left","baseline":"alphabetic","dx":1,"dy":-3,"fontSize":15,"font":"Liberation Sans","color":"#111"},
   "encoding":{"x":{"field":"Lg","type":"quantitative","scale":{"domain":[-0.14,5.14],"nice":false,"zero":false},"title":"Lg"},"y":{"field":"v","type":"quantitative","scale":{"domain":[0.0384,0.522],"nice":false,"zero":false},"title":null},"text":{"field":"label"}}}
 ]}
]}
]
}
